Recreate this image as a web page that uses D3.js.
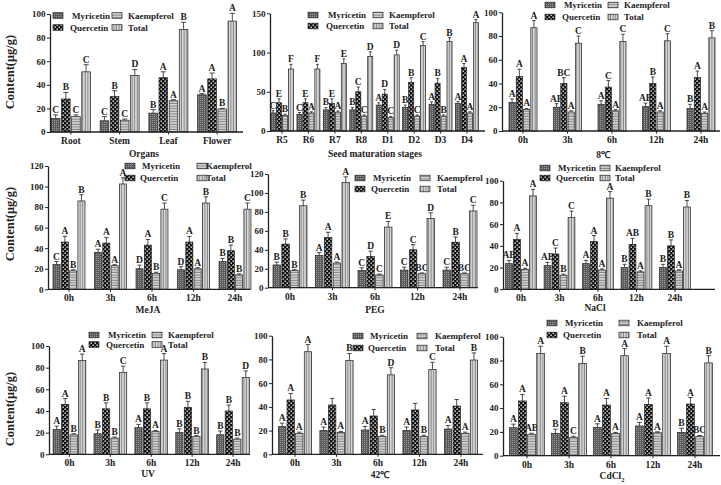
<!DOCTYPE html>
<html><head><meta charset="utf-8">
<script src="https://cdn.jsdelivr.net/npm/d3@7"></script>
<style>
body{margin:0;background:#fff}
svg{display:block}
text{font-family:"Liberation Serif","Times New Roman",serif;font-weight:bold;fill:#222}
</style>
</head><body>
<svg id="c" width="721" height="485"></svg>
<script>
// ---------------- DATA ----------------
const seriesNames = ["Myricetin", "Quercetin", "Kaempferol", "Total"];
const organs = ["Root", "Stem", "Leaf", "Flower"];
const stages = ["R5", "R6", "R7", "R8", "D1", "D2", "D3", "D4"];
const hours = ["0h", "3h", "6h", "12h", "24h"];

// rows: Myricetin, Quercetin, Kaempferol, Total
const organsValues  = [[11.5, 9.5, 16, 31.5], [28, 30, 46, 45], [13, 10, 26.5, 19.5], [51, 48, 87, 94]];
const organsErrors  = [[3, 3.5, 3, 1], [5.5, 5, 5, 5], [1.5, 1, 0.8, 0.6], [6, 5, 6, 6.5]];
const organsLetters = [["C","C","B","A"], ["B","B","A","A"], ["C","C","A","B"], ["C","D","B","A"]];

const stagesValues  = [[23, 21, 27, 27, 33, 30, 34, 35], [36, 36, 35, 50, 47, 62, 61, 81], [20, 23, 24, 19, 17, 19, 19, 23], [79, 79, 86, 95, 97, 109, 114, 138]];
const stagesErrors  = [[3, 2.5, 3, 3, 3, 3, 3, 2.5], [5, 5, 6, 6, 6, 6, 6, 5], [1.5, 1.5, 1.5, 1.5, 1.5, 1.5, 1.5, 1.5], [6, 6, 6, 6, 6, 5, 5, 4]];
const stagesLetters = [["C","C","B","B","A","B","A","A"], ["E","E","E","C","D","B","B","A"], ["B","A","A","C","C","C","B","A"], ["F","F","E","D","D","C","B","A"]];

const coldValues  = [[24, 20, 22.5, 20.5, 19], [46, 40, 37, 40, 45], [18, 16, 17, 16, 15], [87, 74, 75.5, 76, 78.5]];
const coldErrors  = [[3, 3, 3, 3, 3.5], [6, 5, 5.5, 5.5, 5.5], [1, 1, 1, 1, 1], [6, 6, 6, 6, 6]];
const coldLetters = [["A","AB","A","AB","B"], ["A","BC","C","B","A"], ["A","A","A","A","A"], ["A","C","C","C","B"]];

const mejaValues  = [[24, 36, 20, 19, 27], [46, 45, 43, 46, 37.5], [18, 23, 15.6, 20, 14], [86, 102.5, 78, 84, 78]];
const mejaErrors  = [[3, 3, 3.5, 3, 3], [5.5, 5.5, 5.5, 5.5, 5.5], [1, 1, 1, 1, 1], [6, 6, 6, 6, 6]];
const mejaLetters = [["C","A","D","D","B"], ["A","A","A","A","B"], ["B","A","B","A","B"], ["B","A","C","B","C"]];

const pegValues  = [[24, 34, 18, 18.6, 18.6], [46, 53, 33, 40, 48], [18, 26, 13.4, 14.8, 14.8], [86.5, 111, 64, 73, 81]];
const pegErrors  = [[3, 3, 3, 3, 3], [5.5, 5.5, 5.5, 5.5, 5.5], [1, 1, 1, 0.8, 0.8], [6, 6, 6, 6, 6]];
const pegLetters = [["B","A","C","C","C"], ["B","A","D","C","B"], ["B","A","C","BC","BC"], ["B","A","E","D","C"]];

const naclValues  = [[23.6, 21.8, 23.6, 20, 20], [46, 32.5, 44, 41.4, 40], [18.4, 13, 17.8, 16, 17], [86, 66, 84, 77, 75.8]];
const naclErrors  = [[3, 3, 3, 3, 3], [5.5, 5.5, 5.5, 5.5, 5.5], [1, 1, 1, 1, 1], [6, 6, 6, 6, 6]];
const naclLetters = [["AB","AB","A","B","B"], ["A","C","A","AB","B"], ["A","B","A","A","A"], ["A","C","A","B","B"]];

const uvValues  = [[23, 19, 24.6, 20, 18], [46, 42, 42, 43.4, 40], [18, 15, 21, 16.3, 14], [86.5, 75.4, 87, 78.8, 71]];
const uvErrors  = [[3, 3.5, 3, 3.5, 3.5], [5.5, 5.5, 5.5, 5.5, 5.5], [1, 1, 1, 1, 1], [6, 6, 6, 6, 6]];
const uvLetters = [["A","B","A","B","B"], ["A","B","B","B","B"], ["B","B","A","B","B"], ["A","C","A","B","D"]];

const heatValues  = [[23.3, 20, 20.5, 20, 21.3], [45.8, 41.6, 32.3, 37.4, 40.7], [17.7, 18.3, 15, 15, 17.7], [86.5, 79, 67, 71.6, 79.5]];
const heatErrors  = [[3, 3, 3, 3, 3], [5.5, 5.5, 5.5, 5.5, 5.5], [1, 1, 1, 1, 1], [6, 6, 6, 6, 6]];
const heatLetters = [["A","A","A","A","A"], ["A","","","",""], ["A","A","B","B","A"], ["A","B","D","C","B"]];

const cdValues  = [[23.5, 18.8, 23.8, 25, 19.6], [46, 44.5, 42.6, 43, 43.4], [18, 15.4, 18.8, 19.3, 16], [86, 77.6, 84, 86, 78]];
const cdErrors  = [[3, 3.5, 3, 3, 3.5], [5.5, 5.5, 5.5, 5.5, 5.5], [0.8, 1, 0.8, 0.8, 1], [6, 6, 6, 6, 6]];
const cdLetters = [["A","B","A","A","B"], ["A","A","A","A","A"], ["AB","C","A","A","BC"], ["A","B","A","A","B"]];

const yTitle = "Content(μg/g)";

// ---------------- LAYOUT ----------------
const panels = [
  {cats: organs, vals: organsValues, errs: organsErrors, lets: organsLetters, title: "Organs",
   ax: 50, axEnd: 243, band: [46.5, 241.5], pad: 0.2, yTop: 14, y0: 132, ymax: 100, tick: 20,
   tx: 144, ty: 157, leg: [53, 15.5, 70, 112, 128, 12]},
  {cats: stages, vals: stagesValues, errs: stagesErrors, lets: stagesLetters, title: "Seed maturation stages",
   ax: 270, axEnd: 485, band: [268.8, 480.2], pad: 0.13, yTop: 13.3, y0: 131, ymax: 150, tick: 50,
   tx: 375, ty: 157, leg: [308, 15, 326, 373, 389, 11]},
  {cats: hours, vals: coldValues, errs: coldErrors, lets: coldLetters, title: "8℃",
   ax: 502, axEnd: 720, band: [500.75, 723.25], pad: 0.37, yTop: 12.3, y0: 131, ymax: 100, tick: 20,
   tx: 603, ty: 158, leg: [545, 5, 562, 608, 624, 12]},
  {cats: hours, vals: mejaValues, errs: mejaErrors, lets: mejaLetters, title: "MeJA",
   ax: 48, axEnd: 250, band: [48.25, 255.75], pad: 0.23, yTop: 166, y0: 289.3, ymax: 120, tick: 20,
   tx: 148, ty: 313, leg: [125, 166, 140, 197, 206, 12]},
  {cats: hours, vals: pegValues, errs: pegErrors, lets: pegLetters, title: "PEG",
   ax: 268, axEnd: 478, band: [268.75, 481.25], pad: 0.2, yTop: 174, y0: 287.7, ymax: 120, tick: 20,
   tx: 375, ty: 313, leg: [355, 178, 371, 420, 437, 11]},
  {cats: hours, vals: naclValues, errs: naclErrors, lets: naclLetters, title: "NaCl",
   ax: 503, axEnd: 715, band: [501.75, 694.25], pad: 0.2, yTop: 180.7, y0: 289.3, ymax: 100, tick: 20,
   tx: 595, ty: 311, leg: [540, 168, 556, 600, 615, 10]},
  {cats: hours, vals: uvValues, errs: uvErrors, lets: uvLetters, title: "UV",
   ax: 49, axEnd: 250, band: [49, 253.5], pad: 0.2, yTop: 346, y0: 454.3, ymax: 100, tick: 20,
   tx: 148, ty: 477, leg: [89, 335, 106, 152, 168, 9.5]},
  {cats: hours, vals: heatValues, errs: heatErrors, lets: heatLetters, title: "42℃",
   ax: 272, axEnd: 483, band: [274.25, 481.75], pad: 0.2, yTop: 335.7, y0: 454.3, ymax: 100, tick: 20,
   tx: 380, ty: 478, leg: [353, 336, 368, 417, 435, 12]},
  {cats: hours, vals: cdValues, errs: cdErrors, lets: cdLetters, title: "CdCl",
   ax: 503, axEnd: 720, band: [506, 716], pad: 0.17, yTop: 336.7, y0: 455.7, ymax: 100, tick: 20,
   tx: 612, ty: 479, leg: [547, 323, 563, 619, 637, 12], sub: "2"}
];
const yTitles = [{x: 14, y: 72}, {x: 14, y: 224}, {x: 14, y: 409}];

// ---------------- DRAW ----------------
const svg = d3.select("#c");
const defs = svg.append("defs");

// Myricetin: dark stippled grey
const p0 = defs.append("pattern").attr("id", "pat0").attr("patternUnits", "userSpaceOnUse").attr("width", 2).attr("height", 2);
p0.append("rect").attr("width", 2).attr("height", 2).attr("fill", "#5c5c5c");
p0.append("rect").attr("width", 1).attr("height", 1).attr("fill", "#9a9a9a");
// Quercetin: black with white dots
const p1 = defs.append("pattern").attr("id", "pat1").attr("patternUnits", "userSpaceOnUse").attr("width", 4).attr("height", 4);
p1.append("rect").attr("width", 4).attr("height", 4).attr("fill", "#111");
p1.append("rect").attr("x", 0.5).attr("y", 0.5).attr("width", 1.4).attr("height", 1.4).attr("fill", "#eee");
p1.append("rect").attr("x", 2.5).attr("y", 2.5).attr("width", 1.4).attr("height", 1.4).attr("fill", "#eee");
// Kaempferol: light grey horizontal lines
const p2 = defs.append("pattern").attr("id", "pat2").attr("patternUnits", "userSpaceOnUse").attr("width", 4).attr("height", 2.6);
p2.append("rect").attr("width", 4).attr("height", 2.6).attr("fill", "#d6d6d6");
p2.append("rect").attr("y", 1.6).attr("width", 4).attr("height", 0.8).attr("fill", "#6a6a6a");
// Total: light grey vertical lines
const p3 = defs.append("pattern").attr("id", "pat3").attr("patternUnits", "userSpaceOnUse").attr("width", 2.6).attr("height", 4);
p3.append("rect").attr("width", 2.6).attr("height", 4).attr("fill", "#dadada");
p3.append("rect").attr("x", 1.6).attr("width", 0.8).attr("height", 4).attr("fill", "#6a6a6a");

const stroke = "#222";

panels.forEach(P => {
  const g = svg.append("g");
  const y = d3.scaleLinear().domain([0, P.ymax]).range([P.y0, P.yTop]);
  const x = d3.scaleBand().domain(P.cats).range(P.band).paddingInner(P.pad).paddingOuter(P.pad / 2);
  const xs = d3.scaleBand().domain(d3.range(4)).range([0, x.bandwidth()]).paddingInner(0.15);

  // bars
  P.cats.forEach((c, ci) => {
    for (let s = 0; s < 4; s++) {
      const v = P.vals[s][ci], e = P.errs[s][ci], L = P.lets[s][ci];
      const bx = x(c) + xs(s), bw = xs.bandwidth();
      const cx = bx + bw / 2;
      g.append("line").attr("x1", cx).attr("x2", cx).attr("y1", y(v)).attr("y2", y(v + e))
        .attr("stroke", stroke).attr("stroke-width", 0.8);
      g.append("line").attr("x1", cx - bw * 0.3).attr("x2", cx + bw * 0.3).attr("y1", y(v + e)).attr("y2", y(v + e))
        .attr("stroke", stroke).attr("stroke-width", 0.8);
      g.append("rect").attr("x", bx).attr("y", y(v)).attr("width", bw).attr("height", y(0) - y(v))
        .attr("fill", `url(#pat${s})`).attr("stroke", stroke).attr("stroke-width", 0.7);
      if (L) {
        g.append("text").attr("x", cx).attr("y", y(v + e) - 2).attr("text-anchor", "middle")
          .attr("font-size", 9.5).text(L);
      }
    }
  });

  // y axis
  const yAxis = d3.axisLeft(y).tickValues(d3.range(0, P.ymax + 0.01, P.tick)).tickSize(3).tickSizeOuter(0).tickPadding(1.5);
  const ya = g.append("g").attr("transform", `translate(${P.ax},0)`).call(yAxis);
  ya.selectAll("path").attr("stroke", stroke).attr("stroke-width", 1.3);
  ya.selectAll("line").attr("stroke", stroke).attr("stroke-width", 1);
  ya.selectAll("text").attr("font-size", 9).attr("font-family", "Liberation Serif").attr("font-weight", "bold").attr("fill", "#222");

  // x axis line
  g.append("line").attr("x1", P.ax).attr("x2", P.axEnd).attr("y1", P.y0).attr("y2", P.y0)
    .attr("stroke", stroke).attr("stroke-width", 1.3);
  P.cats.forEach(c => {
    const cx = x(c) + x.bandwidth() / 2;
    g.append("line").attr("x1", cx).attr("x2", cx).attr("y1", P.y0).attr("y2", P.y0 + 2.5)
      .attr("stroke", stroke).attr("stroke-width", 1);
    g.append("text").attr("x", cx).attr("y", P.y0 + 12).attr("text-anchor", "middle")
      .attr("font-size", 9.5).text(c);
  });

  // x title
  const t = g.append("text").attr("x", P.tx).attr("y", P.ty).attr("text-anchor", "middle").attr("font-size", 9.5).text(P.title);
  if (P.sub) t.append("tspan").attr("font-size", 6.5).attr("dy", 2.5).text(P.sub);

  // legend
  const [sx1, ry, tx1, sx2, tx2, gap] = P.leg;
  const legItems = [
    {s: 0, sx: sx1, tx: tx1 + 2, row: 0},
    {s: 1, sx: sx1, tx: tx1, row: 1},
    {s: 2, sx: sx2, tx: tx2, row: 0},
    {s: 3, sx: sx2, tx: tx2, row: 1}
  ];
  legItems.forEach(it => {
    const yy = ry + it.row * gap;
    g.append("rect").attr("x", it.sx).attr("y", yy - 2.8).attr("width", 10).attr("height", 5.6)
      .attr("fill", `url(#pat${it.s})`).attr("stroke", stroke).attr("stroke-width", 0.7);
    g.append("text").attr("x", it.tx).attr("y", yy + 3).attr("font-size", 9).text(seriesNames[it.s]);
  });
});

yTitles.forEach(p => {
  svg.append("text").attr("transform", `translate(${p.x},${p.y}) rotate(-90)`)
    .attr("text-anchor", "middle").attr("font-size", 12.5).text(yTitle);
});
</script>
</body></html>
